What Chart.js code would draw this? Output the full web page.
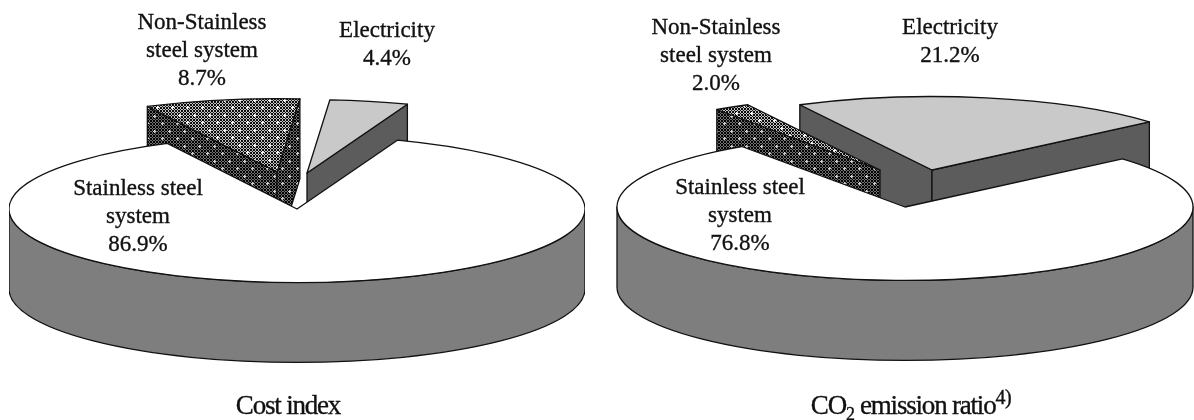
<!DOCTYPE html>
<html>
<head>
<meta charset="utf-8">
<title>Cost index and CO2 emission ratio</title>
<script src="https://cdn.jsdelivr.net/npm/chart.js@4"></script>
<style>
    html, body { margin: 0; padding: 0; background: #fff; overflow: hidden; }
    #page { position: relative; width: 1194px; height: 420px; overflow: hidden; font-family: "Liberation Serif", serif; color: #111; filter: blur(0.45px); -webkit-text-stroke: 0.35px #111; }
    .pie { position: absolute; top: 0; height: 420px; }
    .label { position: absolute; transform: translateX(-50%); text-align: center; font-size: 23px; line-height: 27.8px; white-space: nowrap; }
    .caption { position: absolute; top: 388px; transform: translateX(-50%); font-size: 27px; line-height: 34px; letter-spacing: -1.2px; white-space: nowrap; }
    .caption sub, .caption sup { font-size: 20px; line-height: 0; letter-spacing: -0.5px; }
    .caption sub { font-size: 18px; }
</style>
</head>
<body>
<div id="page">
    <div class="pie" style="left:9px;width:576px"><canvas id="costChart"></canvas></div>
    <div class="pie" style="left:616px;width:578px"><canvas id="co2Chart"></canvas></div>
    <div class="caption" style="left:288px">Cost index</div>
    <div class="caption" style="left:911px">CO<sub>2</sub> emission ratio<sup>4)</sup></div>
</div>
<script>
// Chart values
const categories = ['Stainless steel system', 'Non-Stainless steel system', 'Electricity'];
const costValues = [86.9, 8.7, 4.4];
const co2Values = [76.8, 2.0, 21.2];
const labelLines = [['Stainless steel', 'system'], ['Non-Stainless', 'steel system'], ['Electricity']];

// Look of the 3D pies
const PIE_RADIUS = 288;
const SQUASH = 0.255;
const DEPTH = 80;

// Make a small tile of checker pixels with staggered plus shaped dots
function dotTile(dark, light, dot) {
    const tile = document.createElement('canvas');
    tile.width = 15;
    tile.height = 15;
    const t = tile.getContext('2d');
    t.fillStyle = dark;
    t.fillRect(0, 0, 15, 15);
    t.fillStyle = light;
    for (let y = 0; y < 15; y++) {
        for (let x = 0; x < 15; x++) {
            if ((x % 3 < 2) !== (y % 3 < 2)) {
                t.fillRect(x, y, 1, 1);
            }
        }
    }
    t.fillStyle = dot;
    [[3, 3], [10, 11]].forEach(([x, y]) => {
        t.fillRect(x - 1, y, 3, 1);
        t.fillRect(x, y - 1, 1, 3);
    });
    return tile;
}

// Top pattern gets stretched back because the top face is drawn flattened
function topPattern() {
    const ctx = document.createElement('canvas').getContext('2d');
    const pattern = ctx.createPattern(dotTile('#0c0c0c', '#c4c4c4', '#ffffff'), 'repeat');
    pattern.setTransform(new DOMMatrix().scale(1, 1 / SQUASH));
    return pattern;
}

function sidePattern() {
    const ctx = document.createElement('canvas').getContext('2d');
    return ctx.createPattern(dotTile('#000000', '#707070', '#d0d0d0'), 'repeat');
}

const sideStyles = ['#7e7e7e', sidePattern(), '#5c5c5c'];

function wallPath(ctx, points) {
    ctx.beginPath();
    ctx.moveTo(points[0][0], points[0][1]);
    ctx.lineTo(points[1][0], points[1][1]);
    ctx.lineTo(points[1][0], points[1][1] + DEPTH);
    ctx.lineTo(points[0][0], points[0][1] + DEPTH);
    ctx.closePath();
}

// Draws the arcs the library has laid out as raised, flattened slices
const pie3dPlugin = {
    id: 'pie3d',
    beforeDatasetDraw(chart, args, opts) {
        const ctx = chart.ctx;
        const arcs = chart.getDatasetMeta(0).data;
        ctx.imageSmoothingEnabled = false;

        // Last slice first, the big slice has to end up in front
        for (let i = arcs.length - 1; i >= 0; i--) {
            const arc = arcs[i];
            const { x, y, startAngle, endAngle, outerRadius } = arc.getProps(['x', 'y', 'startAngle', 'endAngle', 'outerRadius']);
            const cx = x + opts.shifts[i][0];
            const cy = y + opts.shifts[i][1];
            const ry = outerRadius * SQUASH;
            const rim = a => [cx + Math.cos(a) * outerRadius, cy + Math.sin(a) * ry];

            ctx.save();
            ctx.strokeStyle = '#111';
            ctx.lineWidth = 1.3;
            ctx.lineJoin = 'round';
            ctx.fillStyle = sideStyles[i];

            // Radial walls, only the ones that look towards the viewer
            if (Math.sin(startAngle - Math.PI / 2) > 0) {
                wallPath(ctx, [[cx, cy], rim(startAngle)]);
                ctx.fill();
                ctx.stroke();
            }
            if (Math.sin(endAngle + Math.PI / 2) > 0) {
                wallPath(ctx, [[cx, cy], rim(endAngle)]);
                ctx.fill();
                ctx.stroke();
            }

            // Outer wall, front half of the rim
            const from = Math.max(startAngle, 0);
            const to = Math.min(endAngle, Math.PI);
            if (to > from) {
                ctx.beginPath();
                ctx.ellipse(cx, cy, outerRadius, ry, 0, from, to);
                ctx.ellipse(cx, cy + DEPTH, outerRadius, ry, 0, to, from, true);
                ctx.closePath();
                ctx.fill();
                ctx.stroke();
            }

            // Top face, filled by the library's own arc
            ctx.save();
            ctx.translate(cx, cy);
            ctx.scale(1, SQUASH);
            ctx.translate(-x, -y);
            arc.draw(ctx);
            ctx.restore();

            ctx.beginPath();
            ctx.moveTo(cx, cy);
            ctx.ellipse(cx, cy, outerRadius, ry, 0, startAngle, endAngle);
            ctx.closePath();
            ctx.stroke();
            ctx.restore();
        }
        return false;
    }
};

function createPie(canvasId, values, startDeg, centerOffset, shifts) {
    return new Chart(document.getElementById(canvasId), {
        type: 'pie',
        data: {
            labels: categories,
            datasets: [{
                data: values,
                radius: PIE_RADIUS,
                backgroundColor: ['#ffffff', topPattern(), '#c9c9c9'],
                borderWidth: 0
            }]
        },
        options: {
            responsive: true,
            maintainAspectRatio: false,
            animation: false,
            rotation: startDeg,
            layout: { padding: { bottom: centerOffset } },
            plugins: {
                legend: { display: false },
                tooltip: { enabled: false },
                pie3d: { shifts: shifts }
            }
        },
        plugins: [pie3dPlugin]
    });
}

// Text next to the slices, x and top of the first line
function addLabels(values, positions) {
    const page = document.getElementById('page');
    categories.forEach((category, i) => {
        const div = document.createElement('div');
        div.className = 'label';
        div.style.left = positions[i][0] + 'px';
        div.style.top = positions[i][1] + 'px';
        div.innerHTML = labelLines[i].concat(values[i].toFixed(1) + '%').join('<br>');
        page.appendChild(div);
    });
}

createPie('costChart', costValues, 20.4, 2, [[0, 0], [-20, -37], [10, -36]]);
createPie('co2Chart', co2Values, 49, 6, [[0, 0], [-25, -37], [27, -37]]);
addLabels(costValues, [[138, 174], [202, 8], [387, 16]]);
addLabels(co2Values, [[740, 173], [716, 13], [950, 13]]);
</script>
</body>
</html>
